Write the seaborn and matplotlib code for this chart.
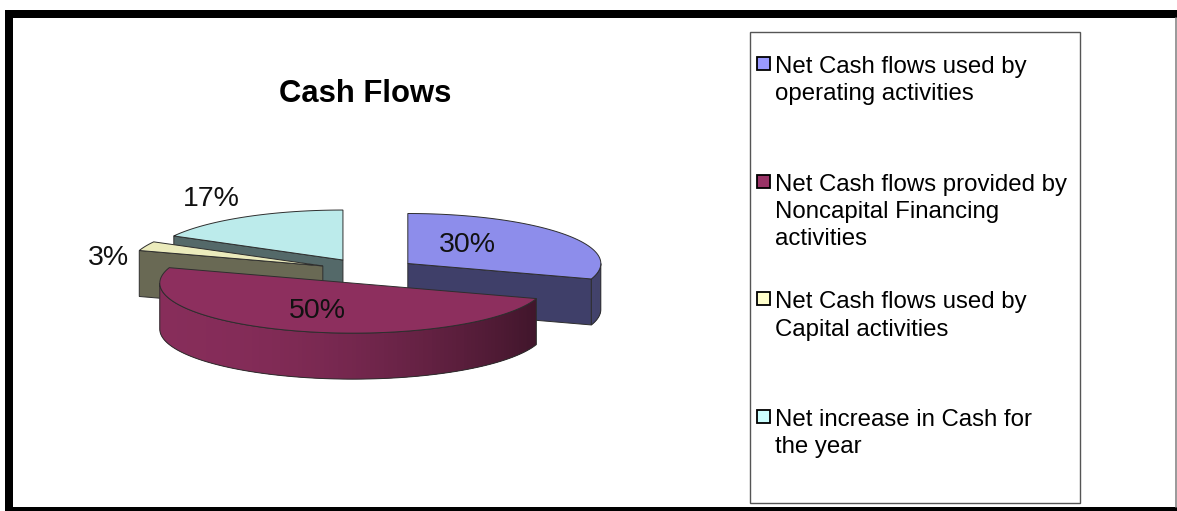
import numpy as np
import matplotlib
matplotlib.use("Agg")
import matplotlib.pyplot as plt
import matplotlib.colors as mcolors
import seaborn as sns
from matplotlib.patches import Polygon, Rectangle

# ---------------- data ----------------
title = "Cash Flows"
categories = [
    "Net Cash flows used by\noperating activities",
    "Net Cash flows provided by\nNoncapital Financing\nactivities",
    "Net Cash flows used by\nCapital activities",
    "Net increase in Cash for\nthe year",
]
shares = [30, 50, 3, 17]
base_colors = ["#9999ff", "#993366", "#ffffcc", "#ccffff"]

# ---------------- style ----------------
sns.set_theme(style="white")
plt.rcParams["font.family"] = ["Liberation Sans", "DejaVu Sans"]
palette = sns.color_palette(base_colors)

W, H = 1177, 511
fig = plt.figure(figsize=(W / 100, H / 100), dpi=100)
ax = fig.add_axes([0, 0, 1, 1])
ax.set_xlim(0, W)
ax.set_ylim(H, 0)
ax.axis("off")

# pie layout (pixel units of the canvas)
CX, CY, RA, RB, DEPTH, EXPLODE = 368, 271, 193, 50, 46, 0.255
LABEL_R = [0.38, 0.60, 1.21, 1.34]
LABEL_DROP = [0, 6, 23, 4]
EDGE = "#2e2e2e"


def shade(c, f):
    rgb = np.array(mcolors.to_rgb(c))
    return tuple(np.clip(rgb * f, 0, 1))


vals = np.array(shares, dtype=float)
fr = vals / vals.sum()
ends = np.cumsum(fr) * 360.0
starts = ends - fr * 360.0

slices = []
for i in range(len(vals)):
    t1, t2 = np.radians(starts[i]), np.radians(ends[i])
    tm = (t1 + t2) / 2
    ox = CX + EXPLODE * RA * np.sin(tm)
    oy = CY - EXPLODE * RB * np.cos(tm)
    slices.append((oy, i, t1, t2, tm, ox))

for oy, i, t1, t2, tm, ox in sorted(slices):
    def P(t, r=1.0, z=0.0, ox=ox, oy=oy):
        return (ox + RA * r * np.sin(t), oy - RB * r * np.cos(t) + z)

    base = palette[i]
    # flat radial faces facing the viewer
    for t, vis in ((t1, np.sin(t1) < -1e-9), (t2, np.sin(t2) > 1e-9)):
        if vis:
            poly = [P(t, 0), P(t), P(t, z=DEPTH), P(t, 0, DEPTH)]
            ax.add_patch(Polygon(poly, closed=True, fc=shade(base, 0.41),
                                 ec=EDGE, lw=0.7, zorder=2))
    # curved outer wall (front half only), shaded left-to-right
    lo, hi = max(t1, np.pi / 2), min(t2, 1.5 * np.pi)
    if hi > lo:
        ts = np.linspace(lo, hi, 120)
        n = len(ts)
        for k in range(n - 1):
            tt = (np.sin((ts[k] + ts[k + 1]) / 2) + 1) / 2
            c = shade(base, 0.88 - 0.48 * tt ** 2)
            k2 = min(k + 3, n - 1)
            seg = ts[k:k2 + 1]
            poly = [P(t) for t in seg] + [P(t, z=DEPTH) for t in seg[::-1]]
            ax.add_patch(Polygon(poly, closed=True, fc=c, ec="none", lw=0, zorder=2))
        outline = [P(t) for t in ts] + [P(t, z=DEPTH) for t in ts[::-1]]
        ax.add_patch(Polygon(outline, closed=True, fill=False, ec=EDGE, lw=0.7, zorder=2))
    # top face
    ts = np.linspace(t1, t2, 200)
    top = [P(t1, 0)] + [P(t) for t in ts]
    ax.add_patch(Polygon(top, closed=True, fc=shade(base, 0.92), ec=EDGE, lw=0.7, zorder=2))

# percentage labels
for oy, i, t1, t2, tm, ox in slices:
    x = ox + RA * LABEL_R[i] * np.sin(tm)
    y = oy - RB * LABEL_R[i] * np.cos(tm) + LABEL_DROP[i]
    ax.text(x, y, f"{fr[i] * 100:.0f}%", ha="center", va="baseline",
            fontsize=20.5, color="#111111", zorder=5)

# title
ax.text(365, 102, title, ha="center", va="baseline", fontsize=22.3,
        fontweight="bold", color="black", zorder=5)

# legend box
ax.add_patch(Rectangle((750, 32), 330, 471, fc="white", ec="#555555", lw=1.0, zorder=3))
for i, lab in enumerate(categories):
    base_y = 73 + i * 117.7
    ax.add_patch(Rectangle((757, base_y - 16), 13, 13, fc=palette[i],
                           ec="black", lw=1.3, zorder=4))
    for j, line in enumerate(lab.split("\n")):
        ax.text(775, base_y + j * 27.3, line, ha="left", va="baseline",
                fontsize=17.3, color="black", zorder=5)

# outer frame
ax.add_patch(Rectangle((5, 10), 8, 501, fc="black", ec="none", zorder=6))
ax.add_patch(Rectangle((5, 10), W - 5, 8, fc="black", ec="none", zorder=6))
ax.add_patch(Rectangle((5, 507), W - 5, 4, fc="black", ec="none", zorder=6))
ax.plot([1176, 1176], [18, 507], color="#888888", lw=1.2, zorder=6)

fig.savefig("out.png", dpi=100)
